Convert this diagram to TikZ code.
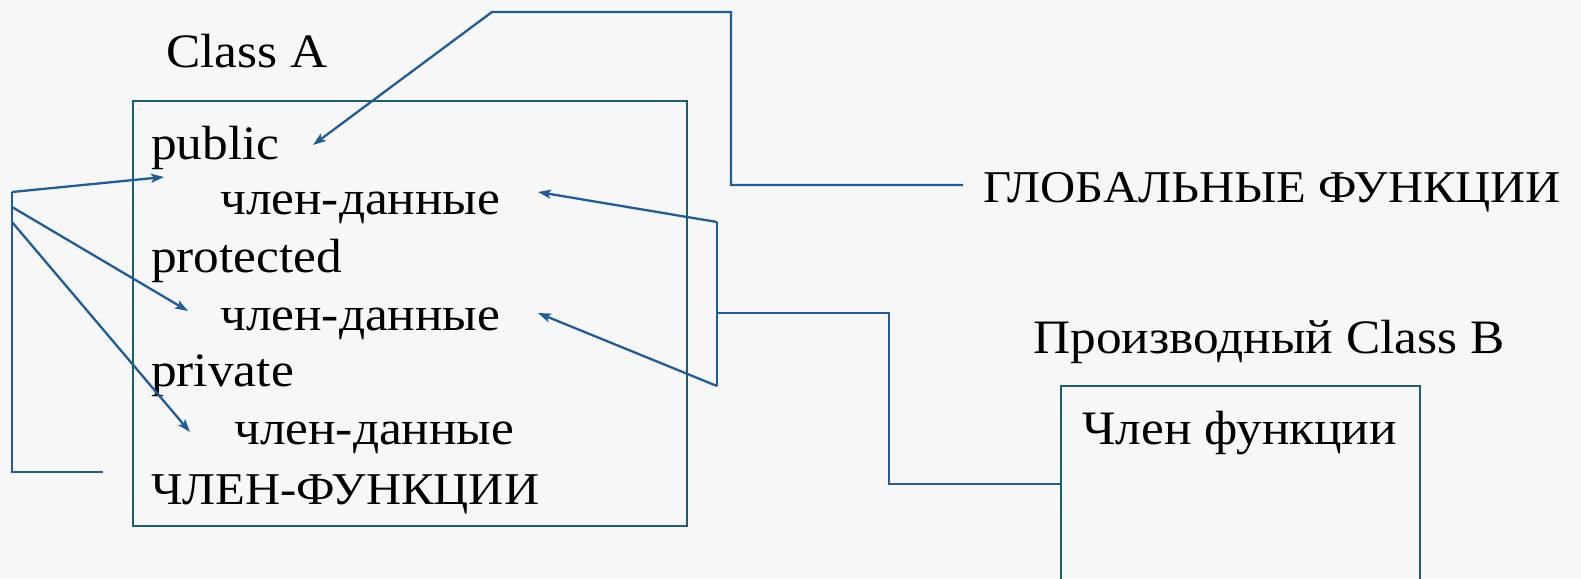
\documentclass[tikz,border=0pt]{standalone}
\usepackage{fontspec}
\setmainfont{Liberation Serif}[FakeStretch=1.07]
\usetikzlibrary{arrows.meta}

\definecolor{boxteal}{HTML}{1D5E6C}
\definecolor{linkblue}{HTML}{1E5C9A}

\begin{document}
\begin{tikzpicture}[x=1pt,y=-1pt,
  box/.style={draw=boxteal,line width=2.3pt},
  link/.style={draw=linkblue,line width=2.3pt},
  arr/.style={link,-{Stealth[length=13pt,width=9pt,inset=3pt]}},
  txt/.style={inner sep=0pt,anchor=base west,font=\fontsize{48}{57}\selectfont},
  captxt/.style={txt,font=\fontsize{45.5}{55}\selectfont}]

\useasboundingbox[fill=white!97!black] (0,0) rectangle (1581,578);

% class A
\coordinate (A1) at (133,101);
\coordinate (A2) at (687,526);
\draw[box] (A1) rectangle (A2);

\node[txt] (clsA)  at (166,67)  {Class A};
\node[txt] (pub)   at (151,159) {public};
\node[txt] (data1) at (220,214) {член-данные};
\node[txt] (prot)  at (151,272) {protected};
\node[txt] (data2) at (220,330) {член-данные};
\node[txt] (priv)  at (151,386) {private};
\node[txt] (data3) at (234,444) {член-данные};
\node[captxt] (mfun) at (151,504) {ЧЛЕН-ФУНКЦИИ};

% left bracket
\coordinate (L1) at (12,192);
\coordinate (L2) at (12,207);
\coordinate (L3) at (12,222);
\coordinate (L4) at (12,472);
\coordinate (L5) at (103,472);
\coordinate (T1) at (164,177);
\coordinate (T2) at (188,311);
\coordinate (T3) at (190,432);
\draw[link] (L5) -- (L4) -- (L1);
\draw[arr] (L1) -- (T1);
\draw[arr] (L2) -- (T2);
\draw[arr] (L3) -- (T3);

% right bracket
\coordinate (R1) at (717,222);
\coordinate (R2) at (717,386);
\coordinate (R3) at (717,313);
\coordinate (U1) at (538,192);
\coordinate (U2) at (538,313);
\draw[link] (R1) -- (R2);
\draw[arr] (R1) -- (U1);
\draw[arr] (R2) -- (U2);

% global functions
\node[captxt] (glob) at (983,202) {ГЛОБАЛЬНЫЕ ФУНКЦИИ};
\coordinate (G0) at (963,185);
\coordinate (G1) at (731,185);
\coordinate (G2) at (731,12);
\coordinate (G3) at (492,12);
\coordinate (G4) at (313,145);
\draw[arr] (G0) -- (G1) -- (G2) -- (G3) -- (G4);

% class B
\node[txt,anchor=base] (clsB) at (1269,353) {Производный Class B};
\coordinate (B1) at (1061,386);
\coordinate (B2) at (1420,386);
\draw[box] (1061,590) -- (B1) -- (B2) -- (1420,590);
\node[txt] (bfun) at (1082,444) {Член функции};

\coordinate (C1) at (889,313);
\coordinate (C2) at (889,484);
\coordinate (C3) at (1061,484);
\draw[link] (R3) -- (C1) -- (C2) -- (C3);

\end{tikzpicture}
\end{document}
